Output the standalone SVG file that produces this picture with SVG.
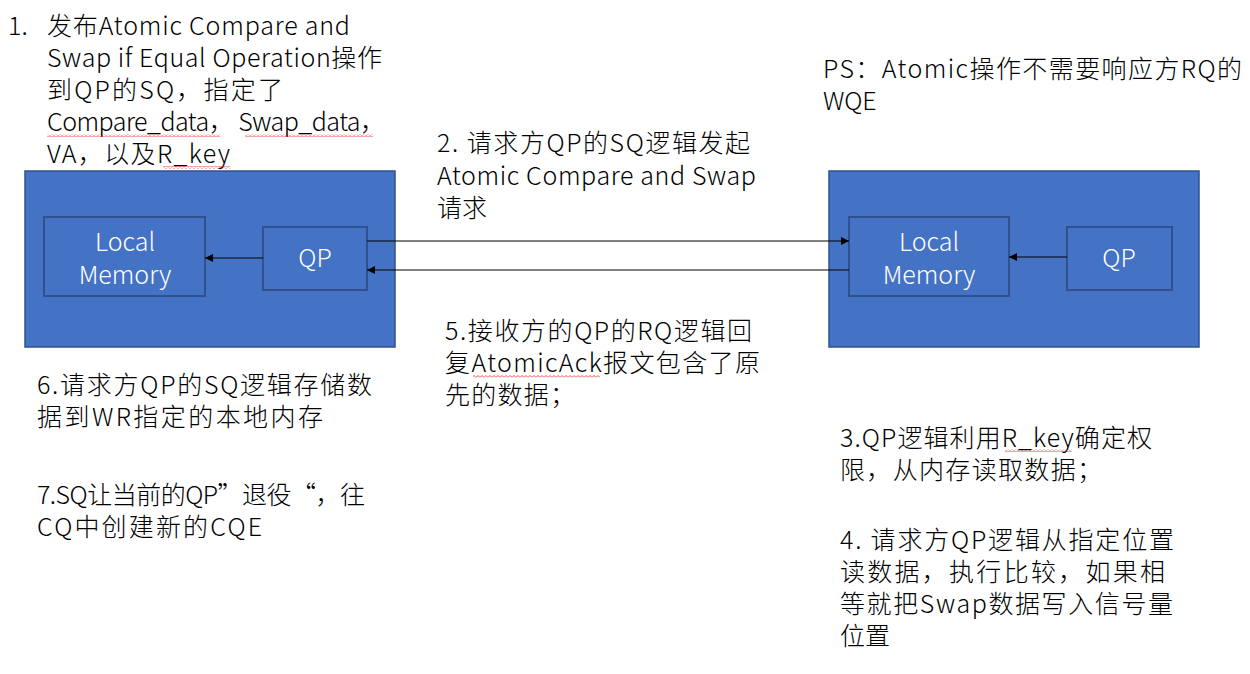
<svg xmlns="http://www.w3.org/2000/svg" width="1250" height="674" viewBox="0 0 1250 674">
  <defs>
    <style>
      .t { font-family: "Noto Sans CJK SC", "Liberation Sans", sans-serif; font-size: 25px; font-weight: 300; fill: #000; }
      .w { font-family: "Noto Sans CJK SC", "Liberation Sans", sans-serif; font-size: 25px; font-weight: 300; fill: #fff; text-anchor: middle; }
      .outer { fill: #4472C4; stroke: #2F528F; stroke-width: 1.5; }
      .inner { fill: #4472C4; stroke: #2F528F; stroke-width: 2; }
      .link { stroke: #000; stroke-width: 1; fill: none; marker-end: url(#arrow); }
    </style>
    <marker id="arrow" viewBox="0 0 10 10" refX="10" refY="5" markerWidth="8" markerHeight="8" markerUnits="userSpaceOnUse" orient="auto">
      <path d="M0,0 L10,5 L0,10 z" fill="#000"/>
    </marker>
    <pattern id="squiggle" x="0" y="0" width="4" height="3" patternUnits="userSpaceOnUse">
      <path d="M0,2.5 L2,0.5 L4,2.5" stroke="#E02020" stroke-width="0.8" fill="none"/>
    </pattern>
  </defs>

  <!-- requester side -->
  <g id="requester">
    <rect class="outer" x="25" y="171" width="370" height="176"/>
  </g>
  <g id="local-memory-left">
    <rect class="inner" x="44" y="217" width="161" height="79"/>
    <text class="w" x="125" y="251">Local<tspan x="125" y="284">Memory</tspan></text>
  </g>
  <g id="qp-left">
    <rect class="inner" x="263" y="227" width="104" height="63"/>
    <text class="w" x="315" y="267">QP</text>
  </g>

  <!-- responder side -->
  <g id="responder">
    <rect class="outer" x="829" y="171" width="370" height="176"/>
  </g>
  <g id="local-memory-right">
    <rect class="inner" x="849" y="217" width="160" height="79"/>
    <text class="w" x="929" y="251">Local<tspan x="929" y="284">Memory</tspan></text>
  </g>
  <g id="qp-right">
    <rect class="inner" x="1067" y="227" width="105" height="63"/>
    <text class="w" x="1119" y="267">QP</text>
  </g>

  <!-- connectors -->
  <g id="connectors">
    <line class="link" x1="263" y1="258" x2="205" y2="258"/>
    <line class="link" x1="367" y1="241" x2="849" y2="241"/>
    <line class="link" x1="849" y1="270" x2="367" y2="270"/>
    <line class="link" x1="1067" y1="257" x2="1009" y2="257"/>
  </g>

  <!-- step notes: one text block per note, one tspan per line -->
  <g id="note-1">
    <text class="t" x="8" y="35">1.<tspan x="47" y="35" textLength="303" lengthAdjust="spacing">发布Atomic Compare and</tspan><tspan x="47" y="67" textLength="335" lengthAdjust="spacing">Swap if Equal Operation操作</tspan><tspan x="47" y="99" textLength="236" lengthAdjust="spacing">到QP的SQ，指定了</tspan><tspan x="47" y="131" textLength="338" lengthAdjust="spacing">Compare_data， Swap_data，</tspan><tspan x="47" y="163" textLength="183" lengthAdjust="spacing">VA，以及R_key</tspan></text>
    <rect x="47" y="134" width="173" height="3" fill="url(#squiggle)"/>
    <rect x="245" y="134" width="128" height="3" fill="url(#squiggle)"/>
    <rect x="163" y="166" width="67" height="3" fill="url(#squiggle)"/>
  </g>
  <g id="note-2">
    <text class="t"><tspan x="437" y="152" textLength="313" lengthAdjust="spacing">2. 请求方QP的SQ逻辑发起</tspan><tspan x="437" y="185" textLength="319" lengthAdjust="spacing">Atomic Compare and Swap</tspan><tspan x="437" y="217">请求</tspan></text>
  </g>
  <g id="note-ps">
    <text class="t"><tspan x="823" y="78" textLength="419" lengthAdjust="spacing">PS：Atomic操作不需要响应方RQ的</tspan><tspan x="823" y="110">WQE</tspan></text>
  </g>
  <g id="note-5">
    <text class="t"><tspan x="445" y="340" textLength="307" lengthAdjust="spacing">5.接收方的QP的RQ逻辑回</tspan><tspan x="445" y="372" textLength="315" lengthAdjust="spacing">复AtomicAck报文包含了原</tspan><tspan x="445" y="404" textLength="130" lengthAdjust="spacing">先的数据；</tspan></text>
    <rect x="473" y="375" width="127" height="3" fill="url(#squiggle)"/>
  </g>
  <g id="note-6">
    <text class="t"><tspan x="37" y="394" textLength="335" lengthAdjust="spacing">6.请求方QP的SQ逻辑存储数</tspan><tspan x="37" y="426" textLength="286" lengthAdjust="spacing">据到WR指定的本地内存</tspan></text>
  </g>
  <g id="note-7">
    <text class="t"><tspan x="37" y="504" textLength="328" lengthAdjust="spacing">7.SQ让当前的QP”退役“，往</tspan><tspan x="37" y="536" textLength="225" lengthAdjust="spacing">CQ中创建新的CQE</tspan></text>
  </g>
  <g id="note-3">
    <text class="t"><tspan x="840" y="447" textLength="312" lengthAdjust="spacing">3.QP逻辑利用R_key确定权</tspan><tspan x="840" y="479" textLength="262" lengthAdjust="spacing">限，从内存读取数据；</tspan></text>
    <rect x="1005" y="449" width="67" height="3" fill="url(#squiggle)"/>
  </g>
  <g id="note-4">
    <text class="t"><tspan x="840" y="549" textLength="334" lengthAdjust="spacing">4. 请求方QP逻辑从指定位置</tspan><tspan x="840" y="581" textLength="325" lengthAdjust="spacing">读数据，执行比较，如果相</tspan><tspan x="840" y="613" textLength="333" lengthAdjust="spacing">等就把Swap数据写入信号量</tspan><tspan x="840" y="645">位置</tspan></text>
  </g>
</svg>
